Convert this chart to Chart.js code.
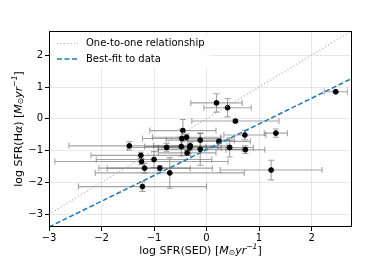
<!DOCTYPE html>
<html>
<head>
<meta charset="utf-8">
<script src="https://cdn.jsdelivr.net/npm/chart.js@4.4.1/dist/chart.umd.min.js"></script>
<style>
  html, body { margin: 0; padding: 0; background: #fff; }
  #wrap { width: 390px; height: 260px; }
</style>
</head>
<body>
<div id="wrap"><canvas id="sfrChart" width="390" height="260"></canvas></div>
<script>
// valori
const sedX  = [2.46, 0.19, 0.40, 0.55, 0.73, 1.32, 0.74, 0.44, 0.235, 1.23, -0.12, -0.12, -0.31, -0.32,
               -0.37, -0.38, -0.45, -0.47, -0.48, -0.76, -1.47, -1.25, -1.24, -1.18, -1.00, -0.89, -0.70, -1.22];
const haY   = [0.85, 0.50, 0.35, -0.07, -0.51, -0.45, -0.97, -0.90, -0.71, -1.61, -0.67, -0.96, -0.85, -0.91,
               -1.07, -0.58, -0.37, -0.62, -0.87, -0.90, -0.85, -1.15, -1.34, -1.55, -1.28, -1.55, -1.70, -2.13];
const sedErr = [0.22, 0.49, 0.45, 0.83, 0.40, 0.22, 0.37, 0.45, 0.60, 0.97, 0.65, 0.80, 0.70, 0.60,
                0.55, 0.65, 0.63, 0.75, 0.70, 0.75, 1.15, 0.95, 1.65, 0.87, 1.10, 1.00, 1.42, 1.22];
const haErr  = [0.03, 0.29, 0.29, 0.05, 0.15, 0.13, 0.12, 0.30, 0.07, 0.31, 0.22, 0.50, 0.10, 0.10,
                0.08, 0.10, 0.35, 0.30, 0.30, 0.12, 0.13, 0.10, 0.10, 0.15, 0.25, 0.08, 0.48, 0.15];

const oneX = [-3, 2.77];
const oneY = [-3, 2.77];
const fitX = [-3, 2.77];
const fitY = [-3.40, 1.27];

const xTicks = [-3, -2, -1, 0, 1, 2];
const yTicks = [-3, -2, -1, 0, 1, 2];

const FONT = '"DejaVu Sans", sans-serif';

// barre d'errore
const errorBars = {
  id: 'errorBars',
  beforeDatasetsDraw(chart) {
    const { ctx, scales: { x, y } } = chart;
    ctx.save();
    ctx.strokeStyle = 'rgba(90,90,90,0.55)';
    ctx.lineWidth = 1.1;
    const cap = 3;
    sedX.forEach((v, i) => {
      const px = x.getPixelForValue(v), py = y.getPixelForValue(haY[i]);
      const x0 = x.getPixelForValue(v - sedErr[i]), x1 = x.getPixelForValue(v + sedErr[i]);
      const y0 = y.getPixelForValue(haY[i] - haErr[i]), y1 = y.getPixelForValue(haY[i] + haErr[i]);
      ctx.beginPath();
      ctx.moveTo(x0, py); ctx.lineTo(x1, py);
      ctx.moveTo(x0, py - cap); ctx.lineTo(x0, py + cap);
      ctx.moveTo(x1, py - cap); ctx.lineTo(x1, py + cap);
      ctx.moveTo(px, y0); ctx.lineTo(px, y1);
      ctx.moveTo(px - cap, y0); ctx.lineTo(px + cap, y0);
      ctx.moveTo(px - cap, y1); ctx.lineTo(px + cap, y1);
      ctx.stroke();
    });
    ctx.restore();
  }
};

// testo con parti in corsivo / apici / pedici
function partFont(p, size) {
  return (p.it ? 'italic ' : '') + ((p.sup || p.sub) ? size * 0.7 : size) + 'px ' + FONT;
}
function drawParts(ctx, parts, size) {
  let w = 0;
  parts.forEach(p => { ctx.font = partFont(p, size); w += ctx.measureText(p.t).width; });
  let cx = -w / 2;
  parts.forEach(p => {
    ctx.font = partFont(p, size);
    const dy = p.sup ? -size * 0.4 : (p.sub ? size * 0.2 : 0);
    ctx.fillText(p.t, cx, dy);
    cx += ctx.measureText(p.t).width;
  });
}

const unit = [{ t: 'M', it: true }, { t: '\u2299', sub: true }, { t: 'yr', it: true },
              { t: '\u22121', sup: true, it: true }, { t: ']' }];

const titles = {
  id: 'titles',
  afterDraw(chart) {
    const { ctx, chartArea: a } = chart;
    ctx.save();
    ctx.fillStyle = '#000';
    ctx.textBaseline = 'middle';
    ctx.textAlign = 'left';
    ctx.translate((a.left + a.right) / 2, 251);
    drawParts(ctx, [{ t: 'log SFR(SED) [' }].concat(unit), 11);
    ctx.restore();
    ctx.save();
    ctx.fillStyle = '#000';
    ctx.textBaseline = 'middle';
    ctx.textAlign = 'left';
    ctx.translate(19, (a.top + a.bottom) / 2);
    ctx.rotate(-Math.PI / 2);
    drawParts(ctx, [{ t: 'log SFR(H' }, { t: '\u03b1', it: true }, { t: ') [' }].concat(unit), 11);
    ctx.restore();
  }
};

// legenda dentro il grafico
const innerLegend = {
  id: 'innerLegend',
  afterDatasetsDraw(chart) {
    const { ctx, chartArea: a } = chart;
    const items = chart.data.datasets.filter(d => d.type === 'line');
    ctx.save();
    ctx.fillStyle = 'rgba(255,255,255,0.85)';
    ctx.fillRect(a.left + 3, a.top + 3, 158, 34);
    ctx.font = '10px ' + FONT;
    ctx.textBaseline = 'middle';
    items.forEach((d, i) => {
      const yy = a.top + 12.5 + i * 15.5;
      ctx.strokeStyle = d.borderColor;
      ctx.lineWidth = d.borderWidth;
      ctx.setLineDash(d.borderDash);
      ctx.beginPath();
      ctx.moveTo(a.left + 8, yy); ctx.lineTo(a.left + 29, yy);
      ctx.stroke();
      ctx.setLineDash([]);
      ctx.fillStyle = '#000';
      ctx.fillText(d.label, a.left + 37, yy);
    });
    ctx.restore();
  }
};

const frame = {
  id: 'frame',
  afterDraw(chart) {
    const { ctx, chartArea: a } = chart;
    ctx.save();
    ctx.strokeStyle = '#000';
    ctx.lineWidth = 1;
    ctx.strokeRect(a.left + 0.5, a.top + 0.5, a.right - a.left - 1, a.bottom - a.top - 1);
    ctx.restore();
  }
};

const ctx = document.getElementById('sfrChart').getContext('2d');
const sfrChart = new Chart(ctx, {
  type: 'scatter',
  data: {
    datasets: [
      { type: 'line', label: 'One-to-one relationship', data: oneX.map((v, i) => ({ x: v, y: oneY[i] })),
        borderColor: '#b8b8b8', borderWidth: 1.2, borderDash: [1.2, 2.2], pointRadius: 0, fill: false },
      { type: 'line', label: 'Best-fit to data', data: fitX.map((v, i) => ({ x: v, y: fitY[i] })),
        borderColor: '#1f77b4', borderWidth: 1.5, borderDash: [5, 2.5], pointRadius: 0, fill: false },
      { label: 'data', data: sedX.map((v, i) => ({ x: v, y: haY[i] })),
        backgroundColor: '#000', borderColor: '#000', pointRadius: 2.4, pointHoverRadius: 2.4 }
    ]
  },
  options: {
    responsive: false,
    animation: false,
    layout: { padding: { left: 0, top: 31, right: 38, bottom: 0 } },
    plugins: { legend: { display: false }, tooltip: { enabled: false } },
    scales: {
      x: {
        type: 'linear', min: -3, max: 2.77,
        afterBuildTicks: s => { s.ticks = xTicks.map(v => ({ value: v })); },
        afterFit: s => { s.height = 33; },
        grid: { color: 'rgba(0,0,0,0.09)', tickColor: '#000', tickLength: 4 },
        border: { display: false },
        ticks: { color: '#000', font: { family: FONT, size: 10 }, padding: 1,
                 callback: v => String(v).replace('-', '\u2212') }
      },
      y: {
        type: 'linear', min: -3.4, max: 2.76,
        afterBuildTicks: s => { s.ticks = yTicks.map(v => ({ value: v })); },
        afterFit: s => { s.width = 49; },
        grid: { color: 'rgba(0,0,0,0.09)', tickColor: '#000', tickLength: 4 },
        border: { display: false },
        ticks: { color: '#000', font: { family: FONT, size: 10 }, padding: 2,
                 callback: v => String(v).replace('-', '\u2212') }
      }
    }
  },
  plugins: [errorBars, innerLegend, frame, titles]
});
</script>
</body>
</html>
